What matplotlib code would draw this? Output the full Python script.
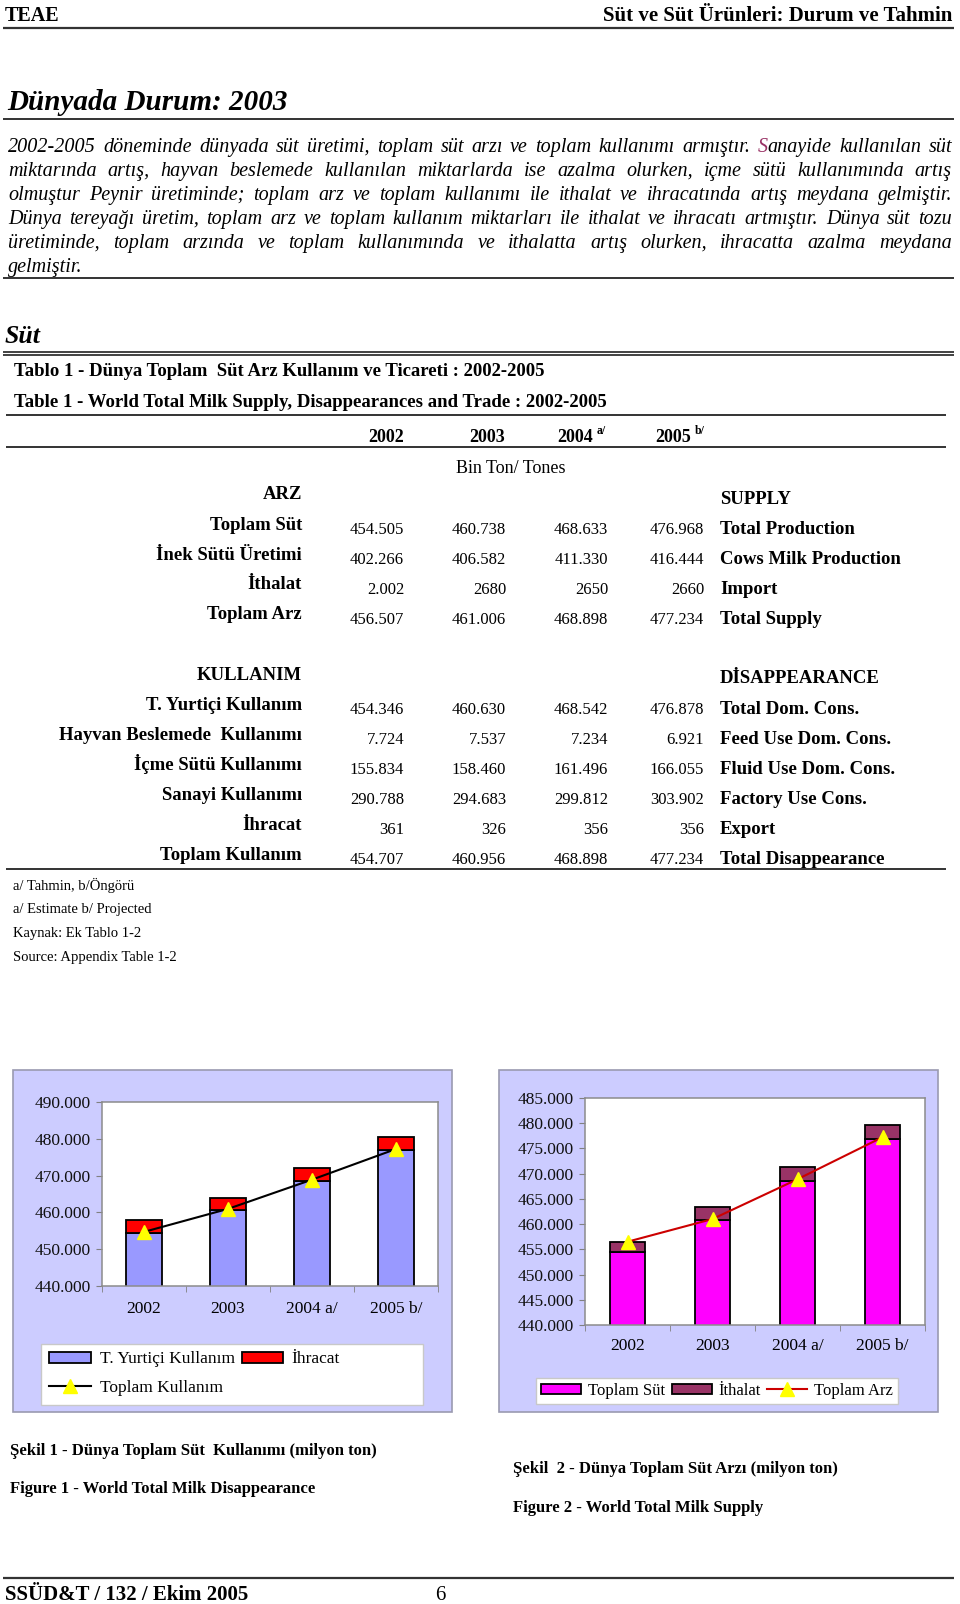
import numpy as np
import matplotlib
matplotlib.use("Agg")
import matplotlib.pyplot as plt
from matplotlib.patches import Rectangle, Patch
from matplotlib.lines import Line2D

W, H = 960, 1604
plt.rcParams["font.family"] = ["Liberation Serif", "DejaVu Serif"]

# ---------------- data ----------------
paragraph = [
    "2002-2005 döneminde dünyada süt üretimi, toplam süt arzı ve toplam kullanımı armıştır. Sanayide kullanılan süt",
    "miktarında artış, hayvan beslemede kullanılan miktarlarda ise azalma olurken, içme sütü  kullanımında artış",
    "olmuştur Peynir üretiminde; toplam arz ve toplam kullanımı ile ithalat ve ihracatında  artış meydana gelmiştir.",
    "Dünya tereyağı üretim, toplam arz ve toplam kullanım miktarları ile ithalat ve ihracatı  artmıştır. Dünya süt tozu",
    "üretiminde, toplam arzında ve toplam kullanımında  ve ithalatta artış olurken, ihracatta azalma meydana",
    "gelmiştir.",
]

table_years = ["2002", "2003", "2004", "2005"]
year_notes = ["", "", "a/", "b/"]

arz_tr = ["Toplam Süt", "İnek Sütü Üretimi", "İthalat", "Toplam Arz"]
arz_en = ["Total Production", "Cows Milk Production", "Import", "Total Supply"]
arz_vals = [
    ["454.505", "460.738", "468.633", "476.968"],
    ["402.266", "406.582", "411.330", "416.444"],
    ["2.002", "2680", "2650", "2660"],
    ["456.507", "461.006", "468.898", "477.234"],
]

kul_tr = ["T. Yurtiçi Kullanım", "Hayvan Beslemede  Kullanımı", "İçme Sütü Kullanımı",
          "Sanayi Kullanımı", "İhracat", "Toplam Kullanım"]
kul_en = ["Total Dom. Cons.", "Feed Use Dom. Cons.", "Fluid Use Dom. Cons.",
          "Factory Use Cons.", "Export", "Total Disappearance"]
kul_vals = [
    ["454.346", "460.630", "468.542", "476.878"],
    ["7.724", "7.537", "7.234", "6.921"],
    ["155.834", "158.460", "161.496", "166.055"],
    ["290.788", "294.683", "299.812", "303.902"],
    ["361", "326", "356", "356"],
    ["454.707", "460.956", "468.898", "477.234"],
]

notes = ["a/ Tahmin, b/Öngörü", "a/ Estimate b/ Projected",
         "Kaynak: Ek Tablo 1-2", "Source: Appendix Table 1-2"]

# chart values (thousand ton, shown as 490.000 etc.)
chart_years = ["2002", "2003", "2004 a/", "2005 b/"]
yurtici = [454.346, 460.630, 468.542, 476.878]
ihracat = [3.61, 3.26, 3.56, 3.56]
toplam_kullanim = [454.707, 460.956, 468.898, 477.234]

toplam_sut = [454.505, 460.738, 468.633, 476.968]
ithalat = [2.002, 2.680, 2.650, 2.660]
toplam_arz = [456.507, 461.006, 468.898, 477.234]

# ---------------- page ----------------
fig = plt.figure(figsize=(W / 100, H / 100), dpi=100)
ax0 = fig.add_axes([0, 0, 1, 1])
ax0.set_xlim(0, W)
ax0.set_ylim(H, 0)
ax0.axis("off")
renderer = fig.canvas.get_renderer()


def hline(y, x0=3, x1=954, lw=1.5, color="#333333"):
    ax0.plot([x0, x1], [y, y], color=color, lw=lw, solid_capstyle="butt")


def txt(x, y, s, size=12, weight="normal", style="normal", ha="left", **kw):
    return ax0.text(x, y, s, fontsize=size, fontweight=weight, fontstyle=style,
                    ha=ha, va="baseline", **kw)


def width_of(s, **kw):
    t = ax0.text(0, 0, s, **kw)
    w = t.get_window_extent(renderer).width
    t.remove()
    return w


def justify(line, y, x0, x1, last=False, **kw):
    words = line.split()
    widths = [width_of(w, **kw) for w in words]
    if last or len(words) < 2:
        gap = width_of("a a", **kw) - width_of("aa", **kw)
    else:
        gap = (x1 - x0 - sum(widths)) / (len(words) - 1)
    x = x0
    for w, wd in zip(words, widths):
        if w == "Sanayide":
            ax0.text(x, y, "S", color="#993366", va="baseline", **kw)
            ax0.text(x + width_of("S", **kw), y, w[1:], va="baseline", **kw)
        else:
            ax0.text(x, y, w, va="baseline", **kw)
        x += wd + gap


# header
txt(5, 21, "TEAE", size=14.5, weight="bold")
txt(952, 21, "Süt ve Süt Ürünleri: Durum ve Tahmin", size=15, weight="bold", ha="right")
hline(28, lw=1.6)

txt(7, 110, "Dünyada Durum: 2003", size=21, weight="bold", style="italic")
hline(119, lw=1.4)

pkw = dict(fontsize=14.5, fontstyle="italic")
for i, line in enumerate(paragraph):
    justify(line, 152 + 24 * i, 8, 952, last=(i == len(paragraph) - 1), **pkw)
hline(278, lw=1.4)

txt(5, 343, "Süt", size=18.5, weight="bold", style="italic")
hline(351.5, lw=1.3)
hline(355, lw=1.3)

txt(14, 376, "Tablo 1 - Dünya Toplam  Süt Arz Kullanım ve Ticareti : 2002-2005", size=13.5, weight="bold")
txt(14, 407, "Table 1 - World Total Milk Supply, Disappearances and Trade : 2002-2005", size=13.5, weight="bold")
hline(415, x0=6, x1=946, lw=1.4)

year_right = [404, 505, 593, 691]
val_right = [404, 506, 608, 704]
for xr, yr, nt in zip(year_right, table_years, year_notes):
    txt(xr, 442, yr, size=13, weight="bold", ha="right")
    if nt:
        txt(xr + 4, 434, nt, size=8.5, weight="bold")
hline(447, x0=6, x1=946, lw=1.4)

txt(511, 473, "Bin Ton/ Tones", size=13, ha="center")

LBL_R, EN_L = 302, 720
LS = 13.5
txt(LBL_R, 499, "ARZ", size=LS, weight="bold", ha="right")
txt(EN_L, 504, "SUPPLY", size=LS, weight="bold")
for i, (tr, en, vals) in enumerate(zip(arz_tr, arz_en, arz_vals)):
    yb = 530 + 29.7 * i
    txt(LBL_R, yb, tr, size=LS, weight="bold", ha="right")
    for xr, v in zip(val_right, vals):
        txt(xr, yb + 4.5, v, size=12, ha="right")
    txt(EN_L, yb + 4.5, en, size=LS, weight="bold")

txt(LBL_R, 680, "KULLANIM", size=LS, weight="bold", ha="right")
txt(EN_L, 683, "DİSAPPEARANCE", size=LS, weight="bold")
for i, (tr, en, vals) in enumerate(zip(kul_tr, kul_en, kul_vals)):
    yb = 710 + 30 * i
    txt(LBL_R, yb, tr, size=LS, weight="bold", ha="right")
    for xr, v in zip(val_right, vals):
        txt(xr, yb + 4.5, v, size=12, ha="right")
    txt(EN_L, yb + 4.5, en, size=LS, weight="bold")
hline(869, x0=6, x1=946, lw=1.4)

for i, n in enumerate(notes):
    txt(13, 890 + 23.5 * i, n, size=10.5)

# chart frames and the first legend box
for x0_, x1_ in [(13, 452), (499, 938)]:
    ax0.add_patch(Rectangle((x0_, 1070), x1_ - x0_, 1412 - 1070, facecolor="#ccccff",
                            edgecolor="#9a9ab0", lw=1.2, zorder=0))
ax0.add_patch(Rectangle((41, 1344), 423 - 41, 1405 - 1344, facecolor="white",
                        edgecolor="#c8c8c8", lw=1.0, zorder=1))


def frac(x0, y0, x1, y1):
    return [x0 / W, 1 - y1 / H, (x1 - x0) / W, (y1 - y0) / H]


def style_axes(ax, ylo, yhi, step, pad_x):
    ax.set_facecolor("white")
    ax.set_xlim(-0.5, 3.5)
    ax.set_ylim(ylo, yhi)
    ax.set_yticks(np.arange(ylo, yhi + 0.1, step))
    ax.set_yticklabels([f"{v:.3f}" for v in np.arange(ylo, yhi + 0.1, step)])
    ax.set_xticks(range(len(chart_years)))
    ax.set_xticklabels(chart_years)
    ax.set_xticks(np.arange(-0.5, 3.6, 1), minor=True)
    ax.tick_params(axis="x", which="major", length=0, pad=pad_x, labelsize=12.5)
    ax.tick_params(axis="x", which="minor", length=4, color="#808080", direction="out")
    ax.tick_params(axis="y", length=4, color="#808080", pad=4, labelsize=12.5, labelcolor="#111111")
    for s in ax.spines.values():
        s.set_color("#8c8c8c")
        s.set_linewidth(1.1)


x = np.arange(len(chart_years))
bw = 0.42

# chart 1
ax1 = fig.add_axes(frac(102, 1102, 438, 1286))
ax1.bar(x, yurtici, bw, color="#9999ff", edgecolor="black", lw=1.3)
ax1.bar(x, ihracat, bw, bottom=yurtici, color="#ff0000", edgecolor="black", lw=1.3)
ax1.plot(x, toplam_kullanim, color="black", lw=1.5, marker="^", ms=10,
         mfc="#ffff00", mec="#ffff00", zorder=5)
style_axes(ax1, 440, 490, 10, 11)
h1 = [Patch(facecolor="#9999ff", edgecolor="black", lw=1.3),
      Line2D([], [], color="black", lw=1.5, marker="^", ms=10, mfc="#ffff00", mec="#ffff00"),
      Patch(facecolor="#ff0000", edgecolor="black", lw=1.3)]
ax1.legend(h1, ["T. Yurtiçi Kullanım", "Toplam Kullanım", "İhracat"], ncol=2,
           loc="upper left", bbox_to_anchor=(44 / W, 1 - 1346 / H),
           bbox_transform=fig.transFigure, frameon=False, fontsize=12.5,
           handlelength=2.4, handleheight=0.6, labelspacing=0.75, borderaxespad=0,
           borderpad=0.3, columnspacing=0.4, handletextpad=0.5)

# chart 2
ax2 = fig.add_axes(frac(585, 1098, 925, 1325))
ax2.bar(x, toplam_sut, bw, color="#ff00ff", edgecolor="black", lw=1.3)
ax2.bar(x, ithalat, bw, bottom=toplam_sut, color="#993366", edgecolor="black", lw=1.3)
ax2.plot(x, toplam_arz, color="#cc0000", lw=1.5, marker="^", ms=10,
         mfc="#ffff00", mec="#ffff00", zorder=5)
style_axes(ax2, 440, 485, 5, 9)
h2 = [Patch(facecolor="#ff00ff", edgecolor="black", lw=1.3),
      Patch(facecolor="#993366", edgecolor="black", lw=1.3),
      Line2D([], [], color="#cc0000", lw=1.5, marker="^", ms=10, mfc="#ffff00", mec="#ffff00")]
ax2.legend(h2, ["Toplam Süt", "İthalat", "Toplam Arz"], ncol=3,
           loc="upper left", bbox_to_anchor=frac(536, 1378, 898, 1407),
           bbox_transform=fig.transFigure, mode="expand", fancybox=False,
           edgecolor="#c8c8c8", framealpha=1, fontsize=12, handlelength=2.4,
           handleheight=0.6, borderaxespad=0, borderpad=0.3,
           columnspacing=0.5, handletextpad=0.4)

# captions
txt(10, 1455, "Şekil 1 - Dünya Toplam Süt  Kullanımı (milyon ton)", size=12, weight="bold")
txt(10, 1493, "Figure 1 - World Total Milk Disappearance", size=12, weight="bold")
txt(513, 1473, "Şekil  2 - Dünya Toplam Süt Arzı (milyon ton)", size=12, weight="bold")
txt(513, 1512, "Figure 2 - World Total Milk Supply", size=12, weight="bold")

# footer
hline(1578, lw=1.6)
txt(5, 1600, "SSÜD&T / 132 / Ekim 2005", size=15, weight="bold")
txt(440, 1600, "6", size=15, ha="center")

fig.savefig("out.png", dpi=100)
